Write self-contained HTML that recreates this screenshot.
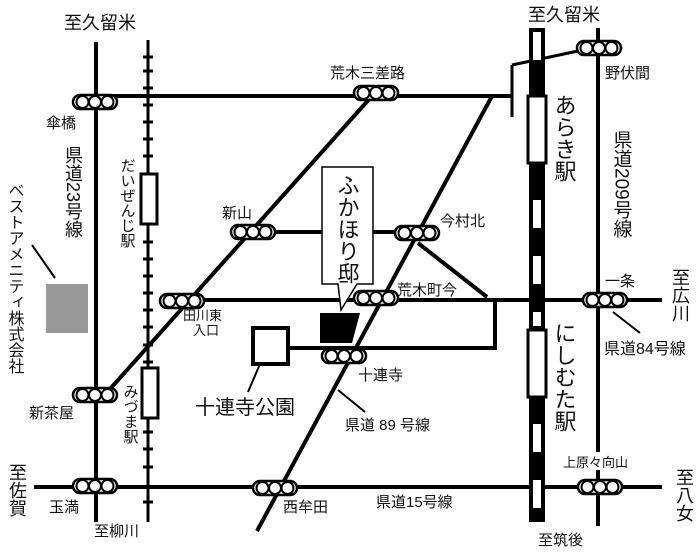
<!DOCTYPE html>
<html><head><meta charset="utf-8"><style>
html,body{margin:0;padding:0;background:#fff;width:700px;height:554px;overflow:hidden}
svg text{font-family:"Liberation Sans","Noto Sans CJK JP",sans-serif;fill:#111}
</style></head><body>
<svg width="700" height="554" viewBox="0 0 700 554" xmlns="http://www.w3.org/2000/svg">
<defs>
<g id="s"><rect x="-22" y="-7" width="44" height="14" rx="7" fill="#fff" stroke="#000" stroke-width="2.5"/>
<circle cx="-12.5" cy="0" r="6" fill="#fff" stroke="#000" stroke-width="2"/>
<circle cx="0" cy="0" r="6" fill="#fff" stroke="#000" stroke-width="2"/>
<circle cx="12.5" cy="0" r="6" fill="#fff" stroke="#000" stroke-width="2"/></g>
</defs>
<g stroke="#000" stroke-width="4" fill="none" stroke-linecap="butt">
<line x1="96" y1="42" x2="96" y2="522"/>
<line x1="96" y1="96" x2="512" y2="96"/>
<line x1="512" y1="65" x2="512" y2="117" stroke-width="3"/>
<line x1="512" y1="65" x2="578" y2="51" stroke-width="3"/>
<line x1="598" y1="28" x2="598" y2="452"/>
<line x1="598" y1="470" x2="598" y2="526"/>
<line x1="160" y1="300" x2="662" y2="300"/>
<line x1="288" y1="348" x2="495" y2="348"/>
<line x1="495" y1="300" x2="495" y2="350"/>
<line x1="34" y1="487" x2="662" y2="487"/>
<line x1="110" y1="389" x2="372" y2="96"/>
<line x1="257" y1="531" x2="492" y2="96"/>
<line x1="418" y1="243" x2="487" y2="297"/>
<line x1="275" y1="232" x2="322" y2="232"/>
<line x1="372" y1="232" x2="398" y2="232"/>
<line x1="148" y1="40" x2="148" y2="522" stroke-width="3"/>
</g>
<g stroke="#000" stroke-width="2">
<line x1="260" y1="364" x2="248" y2="392"/>
<line x1="338" y1="390" x2="365" y2="412"/>
<line x1="613" y1="312" x2="640" y2="333"/>
<line x1="32" y1="245" x2="55" y2="278"/>
</g>
<g stroke="#000" stroke-width="3">
<line x1="143" y1="57" x2="153" y2="57"/><line x1="143" y1="71" x2="153" y2="71"/><line x1="143" y1="88" x2="153" y2="88"/>
<line x1="143" y1="105" x2="153" y2="105"/><line x1="143" y1="122" x2="153" y2="122"/><line x1="143" y1="139" x2="153" y2="139"/>
<line x1="143" y1="156" x2="153" y2="156"/><line x1="143" y1="242" x2="153" y2="242"/><line x1="143" y1="259" x2="153" y2="259"/>
<line x1="143" y1="276" x2="153" y2="276"/><line x1="143" y1="293" x2="153" y2="293"/><line x1="143" y1="310" x2="153" y2="310"/>
<line x1="143" y1="327" x2="153" y2="327"/><line x1="143" y1="345" x2="153" y2="345"/><line x1="143" y1="362" x2="153" y2="362"/>
<line x1="143" y1="432" x2="153" y2="432"/><line x1="143" y1="449" x2="153" y2="449"/><line x1="143" y1="467" x2="153" y2="467"/>
<line x1="143" y1="502" x2="153" y2="502"/>
</g>
<rect x="141" y="174" width="16" height="50" fill="#fff" stroke="#000" stroke-width="3"/>
<rect x="142" y="368" width="16" height="50" fill="#fff" stroke="#000" stroke-width="3"/>
<rect x="529" y="28" width="16" height="494" fill="#000"/>
<g fill="#fff">
<rect x="533" y="32" width="8" height="28"/>
<rect x="533" y="200" width="8" height="28"/>
<rect x="533" y="256" width="8" height="28"/>
<rect x="533" y="312" width="8" height="14"/>
<rect x="533" y="424" width="8" height="28"/>
<rect x="533" y="480" width="8" height="28"/>
</g>
<rect x="528" y="96" width="18" height="67" fill="#fff" stroke="#000" stroke-width="3"/>
<rect x="528" y="330" width="18" height="67" fill="#fff" stroke="#000" stroke-width="3"/>
<rect x="46" y="284" width="42" height="49" fill="#999"/>
<rect x="253" y="328" width="35" height="36" fill="#fff" stroke="#000" stroke-width="4"/>
<polygon points="320,313 360,313 352,343 320,343" fill="#000"/>
<polygon points="322,167 373,167 373,284 357,284 341,310 338,284 322,284" fill="#fff" stroke="#000" stroke-width="1.5"/>
<use href="#s" x="95" y="102"/><use href="#s" x="376" y="93"/><use href="#s" x="599" y="48"/>
<use href="#s" x="253" y="232"/><use href="#s" x="417" y="233"/><use href="#s" x="376" y="298"/>
<use href="#s" x="182" y="301"/><use href="#s" x="344" y="356"/><use href="#s" x="95" y="395"/>
<use href="#s" x="95" y="486"/><use href="#s" x="275" y="488"/><use href="#s" x="605" y="300"/>
<use href="#s" x="600" y="487"/>
<g font-size="18"><text x="64" y="29">至久留米</text><text x="528" y="21">至久留米</text></g>
<g font-size="15">
<text x="330" y="78">荒木三差路</text><text x="605" y="78">野伏間</text><text x="46" y="128">傘橋</text>
<text x="222" y="218">新山</text><text x="440" y="226">今村北</text><text x="397" y="295">荒木町今</text>
<text x="605" y="286">一条</text><text x="358" y="380">十連寺</text><text x="29" y="418">新茶屋</text>
<text x="49" y="512">玉満</text><text x="283" y="512">西牟田</text><text x="94" y="536">至柳川</text>
<text x="538" y="545">至筑後</text><text x="345" y="430">県道 89 号線</text><text x="376" y="507">県道15号線</text>
</g>
<g font-size="13"><text x="183" y="320">田川東</text><text x="193" y="335">入口</text><text x="563" y="467">上原々向山</text></g>
<text x="604" y="354" font-size="16">県道84号線</text>
<text x="195" y="414" font-size="20">十連寺公園</text>
<g font-size="18" style="writing-mode:vertical-rl"><text x="73" y="146">県道23号線</text><text x="680" y="268">至広川</text><text x="17" y="463">至佐賀</text><text x="684" y="468">至八女</text></g>
<text x="14" y="182" font-size="16" style="writing-mode:vertical-rl">ベストアメニティ株式会社</text>
<g font-size="15" style="writing-mode:vertical-rl"><text x="127" y="158">だいぜんじ駅</text><text x="130" y="384">みづま駅</text></g>
<g font-size="22" style="writing-mode:vertical-rl"><text x="564" y="94">あらき駅</text><text x="564" y="322">にしむた駅</text><text x="347" y="174">ふかほり邸</text></g>
<text x="621" y="130" font-size="19" style="writing-mode:vertical-rl">県道209号線</text>
</svg>
</body></html>
